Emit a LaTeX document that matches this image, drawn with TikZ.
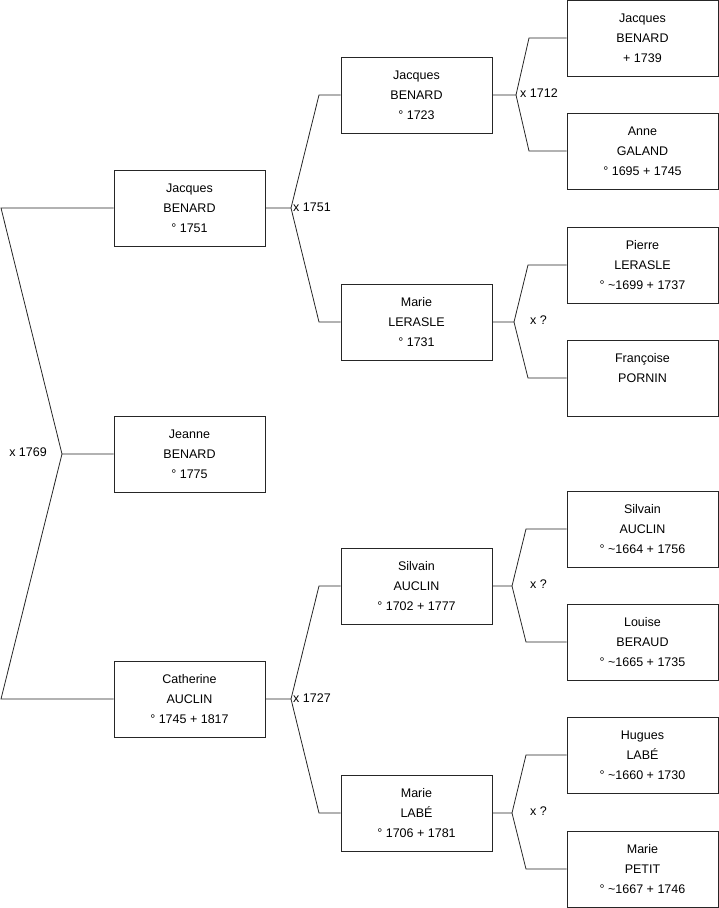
\documentclass[tikz,border=0pt]{standalone}
\usepackage{fontspec}
\setmainfont{Liberation Sans}
\tikzset{
  person/.style={draw=black!85, line width=0.8pt, minimum width=151pt, minimum height=76pt,
    inner sep=0pt, align=center, font=\fontsize{12.5}{20}\selectfont},
  link/.style={draw=black!85, line width=0.8pt},
  union/.style={font=\fontsize{12.5}{15}\selectfont, inner sep=0pt}
}
\begin{document}
\begin{tikzpicture}[x=1pt, y=-1pt]
  \useasboundingbox (0,0) rectangle (719,908);

  % Generation 1
  \node[person] (jeanne) at (189.5,454) {Jeanne\\BENARD\\° 1775};

  % Generation 2
  \node[person] (jacquesA) at (189.5,208) {Jacques\\BENARD\\° 1751};
  \node[person] (catherine) at (189.5,699) {Catherine\\AUCLIN\\° 1745 + 1817};

  % Generation 3
  \node[person] (jacquesB) at (416.5,95) {Jacques\\BENARD\\° 1723};
  \node[person] (marieL) at (416.5,322) {Marie\\LERASLE\\° 1731};
  \node[person] (silvainA) at (416.5,586) {Silvain\\AUCLIN\\° 1702 + 1777};
  \node[person] (marieB) at (416.5,813) {Marie\\LABÉ\\° 1706 + 1781};

  % Generation 4
  \node[person] (jacquesC) at (642.5,38) {Jacques\\BENARD\\+ 1739};
  \node[person] (anne) at (642.5,151) {Anne\\GALAND\\° 1695 + 1745};
  \node[person] (pierre) at (642.5,265) {Pierre\\LERASLE\\° \textasciitilde1699 + 1737};
  \node[person] (francoise) at (642.5,378) {Françoise\\PORNIN\\\mbox{}};
  \node[person] (silvainB) at (642.5,529) {Silvain\\AUCLIN\\° \textasciitilde1664 + 1756};
  \node[person] (louise) at (642.5,642) {Louise\\BERAUD\\° \textasciitilde1665 + 1735};
  \node[person] (hugues) at (642.5,755) {Hugues\\LABÉ\\° \textasciitilde1660 + 1730};
  \node[person] (marieP) at (642.5,869) {Marie\\PETIT\\° \textasciitilde1667 + 1746};

  % Fork points
  \coordinate (v0) at (62,454);
  \coordinate (v0a) at (1,208);
  \coordinate (v0b) at (1,699);
  \coordinate (vA) at (291,208);
  \coordinate (vAa) at (319,95);
  \coordinate (vAb) at (319,322);
  \coordinate (vB) at (291,699);
  \coordinate (vBa) at (319,586);
  \coordinate (vBb) at (319,813);
  \coordinate (vC) at (516,95);
  \coordinate (vCa) at (529,38);
  \coordinate (vCb) at (529,151);
  \coordinate (vD) at (514,322);
  \coordinate (vDa) at (528,265);
  \coordinate (vDb) at (528,378);
  \coordinate (vE) at (512,586);
  \coordinate (vEa) at (526,529);
  \coordinate (vEb) at (526,642);
  \coordinate (vF) at (512,813);
  \coordinate (vFa) at (526,755);
  \coordinate (vFb) at (526,869);

  % Links
  \draw[link] (jeanne.west) -- (v0) -- (v0a) -- (jacquesA.west);
  \draw[link] (v0) -- (v0b) -- (catherine.west);
  \draw[link] (jacquesA.east) -- (vA) -- (vAa) -- (jacquesB.west);
  \draw[link] (vA) -- (vAb) -- (marieL.west);
  \draw[link] (catherine.east) -- (vB) -- (vBa) -- (silvainA.west);
  \draw[link] (vB) -- (vBb) -- (marieB.west);
  \draw[link] (jacquesB.east) -- (vC) -- (vCa) -- (jacquesC.west);
  \draw[link] (vC) -- (vCb) -- (anne.west);
  \draw[link] (marieL.east) -- (vD) -- (vDa) -- (pierre.west);
  \draw[link] (vD) -- (vDb) -- (francoise.west);
  \draw[link] (silvainA.east) -- (vE) -- (vEa) -- (silvainB.west);
  \draw[link] (vE) -- (vEb) -- (louise.west);
  \draw[link] (marieB.east) -- (vF) -- (vFa) -- (hugues.west);
  \draw[link] (vF) -- (vFb) -- (marieP.west);

  % Marriages
  \node[union, anchor=east] (m0) at (47,452) {x 1769};
  \node[union, anchor=west] (mA) at (293,207) {x 1751};
  \node[union, anchor=west] (mB) at (293,698) {x 1727};
  \node[union, anchor=west] (mC) at (520,93) {x 1712};
  \node[union] (mD) at (538.5,320) {x ?};
  \node[union] (mE) at (538.5,584) {x ?};
  \node[union] (mF) at (538.5,811) {x ?};
\end{tikzpicture}
\end{document}
